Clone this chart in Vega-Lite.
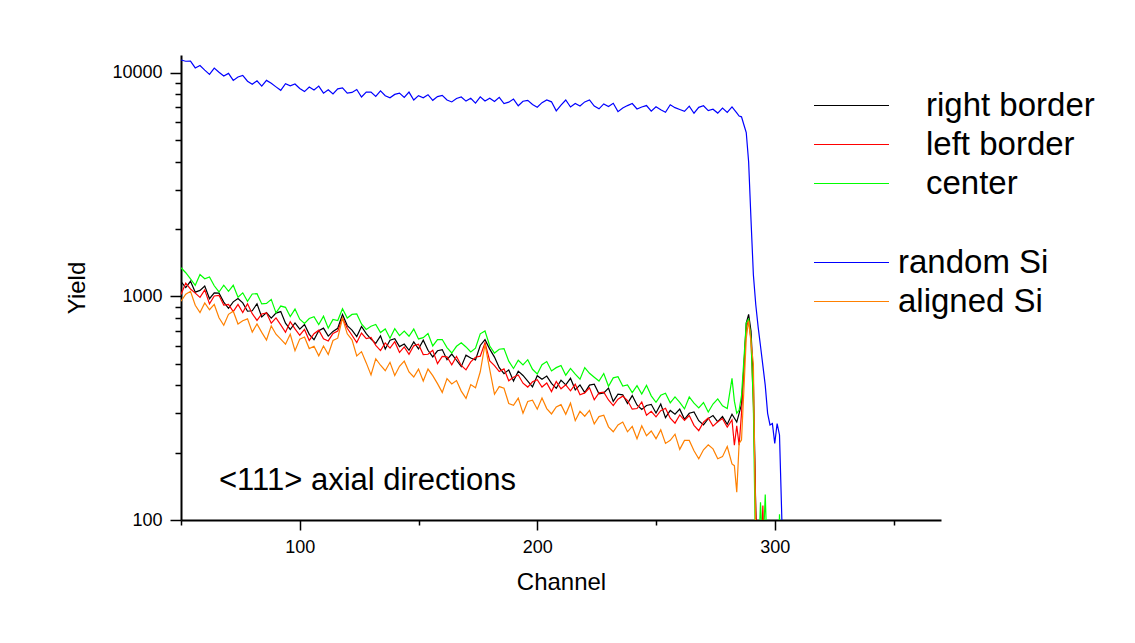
{
  "$schema": "https://vega.github.io/schema/vega-lite/v6.json",
  "autosize": {"type": "none"},
  "padding": {"left": 181, "top": 55, "right": 194, "bottom": 123},
  "width": 760,
  "height": 465,
  "background": "white",
  "config": {
    "font": "Liberation Sans",
    "view": {"stroke": null},
    "axis": {"grid": false, "domainColor": "black", "tickColor": "black", "labelColor": "black", "titleColor": "black", "labelFontSize": 18, "titleFontSize": 24, "titleFontWeight": "normal", "domainWidth": 2, "tickWidth": 1.5, "labelFont": "Liberation Sans", "titleFont": "Liberation Sans"},
    "legend": {"symbolType": "stroke", "symbolSize": 5625, "symbolStrokeWidth": 1.2, "labelFontSize": 33, "labelLimit": 500, "labelColor": "black", "clipHeight": 37, "rowPadding": 2, "padding": 0, "labelFont": "Liberation Sans"}
  },
  "datasets": {
    "aligned": [
      {"channel": 50, "right border": 1164, "left border": 1020, "center": 1342},
      {"channel": 52, "right border": 1094, "left border": 1146, "center": 1275},
      {"channel": 54, "right border": 1168, "left border": 1079, "center": 1197},
      {"channel": 56, "right border": 1044, "left border": 1034, "center": 1121},
      {"channel": 58, "right border": 1063, "left border": 990, "center": 1251},
      {"channel": 60, "right border": 1113, "left border": 1069, "center": 1199},
      {"channel": 62, "right border": 976, "left border": 926, "center": 1221},
      {"channel": 64, "right border": 1036, "left border": 1004, "center": 1115},
      {"channel": 66, "right border": 1034, "left border": 1011, "center": 1046},
      {"channel": 68, "right border": 943, "left border": 914, "center": 1122},
      {"channel": 70, "right border": 884, "left border": 921, "center": 1053},
      {"channel": 72, "right border": 945, "left border": 854, "center": 1121},
      {"channel": 74, "right border": 977, "left border": 920, "center": 992},
      {"channel": 76, "right border": 935, "left border": 846, "center": 1037},
      {"channel": 78, "right border": 858, "left border": 927, "center": 951},
      {"channel": 80, "right border": 862, "left border": 837, "center": 1025},
      {"channel": 82, "right border": 927, "left border": 781, "center": 1028},
      {"channel": 84, "right border": 809, "left border": 834, "center": 925},
      {"channel": 86, "right border": 846, "left border": 844, "center": 930},
      {"channel": 88, "right border": 799, "left border": 759, "center": 969},
      {"channel": 90, "right border": 842, "left border": 801, "center": 844},
      {"channel": 92, "right border": 855, "left border": 745, "center": 905},
      {"channel": 94, "right border": 759, "left border": 691, "center": 893},
      {"channel": 96, "right border": 711, "left border": 770, "center": 813},
      {"channel": 98, "right border": 760, "left border": 715, "center": 877},
      {"channel": 100, "right border": 713, "left border": 670, "center": 790},
      {"channel": 102, "right border": 748, "left border": 711, "center": 757},
      {"channel": 104, "right border": 676, "left border": 635, "center": 796},
      {"channel": 106, "right border": 640, "left border": 681, "center": 811},
      {"channel": 108, "right border": 702, "left border": 706, "center": 748},
      {"channel": 110, "right border": 721, "left border": 646, "center": 815},
      {"channel": 112, "right border": 664, "left border": 632, "center": 721},
      {"channel": 114, "right border": 697, "left border": 682, "center": 788},
      {"channel": 116, "right border": 720, "left border": 700, "center": 780},
      {"channel": 118, "right border": 830, "left border": 800, "center": 880},
      {"channel": 120, "right border": 740, "left border": 720, "center": 800},
      {"channel": 122, "right border": 706, "left border": 670, "center": 830},
      {"channel": 124, "right border": 661, "left border": 621, "center": 834},
      {"channel": 126, "right border": 734, "left border": 685, "center": 753},
      {"channel": 128, "right border": 681, "left border": 647, "center": 711},
      {"channel": 130, "right border": 644, "left border": 655, "center": 735},
      {"channel": 132, "right border": 616, "left border": 604, "center": 748},
      {"channel": 134, "right border": 666, "left border": 572, "center": 689},
      {"channel": 136, "right border": 582, "left border": 619, "center": 715},
      {"channel": 138, "right border": 637, "left border": 587, "center": 650},
      {"channel": 140, "right border": 647, "left border": 627, "center": 717},
      {"channel": 142, "right border": 596, "left border": 561, "center": 667},
      {"channel": 144, "right border": 612, "left border": 594, "center": 699},
      {"channel": 146, "right border": 574, "left border": 551, "center": 663},
      {"channel": 148, "right border": 626, "left border": 601, "center": 714},
      {"channel": 150, "right border": 582, "left border": 611, "center": 645},
      {"channel": 152, "right border": 637, "left border": 549, "center": 654},
      {"channel": 154, "right border": 574, "left border": 551, "center": 682},
      {"channel": 156, "right border": 536, "left border": 574, "center": 600},
      {"channel": 158, "right border": 571, "left border": 500, "center": 640},
      {"channel": 160, "right border": 578, "left border": 539, "center": 641},
      {"channel": 162, "right border": 521, "left border": 537, "center": 590},
      {"channel": 164, "right border": 552, "left border": 494, "center": 558},
      {"channel": 166, "right border": 518, "left border": 538, "center": 598},
      {"channel": 168, "right border": 485, "left border": 491, "center": 620},
      {"channel": 170, "right border": 546, "left border": 469, "center": 594},
      {"channel": 172, "right border": 530, "left border": 509, "center": 564},
      {"channel": 174, "right border": 519, "left border": 534, "center": 587},
      {"channel": 176, "right border": 603, "left border": 540, "center": 680},
      {"channel": 178, "right border": 640, "left border": 620, "center": 700},
      {"channel": 180, "right border": 581, "left border": 514, "center": 600},
      {"channel": 182, "right border": 535, "left border": 490, "center": 558},
      {"channel": 184, "right border": 480, "left border": 461, "center": 580},
      {"channel": 186, "right border": 451, "left border": 474, "center": 584},
      {"channel": 188, "right border": 469, "left border": 419, "center": 513},
      {"channel": 190, "right border": 418, "left border": 435, "center": 476},
      {"channel": 192, "right border": 463, "left border": 445, "center": 518},
      {"channel": 194, "right border": 443, "left border": 409, "center": 494},
      {"channel": 196, "right border": 418, "left border": 393, "center": 521},
      {"channel": 198, "right border": 394, "left border": 415, "center": 472},
      {"channel": 200, "right border": 442, "left border": 424, "center": 450},
      {"channel": 202, "right border": 426, "left border": 393, "center": 495},
      {"channel": 204, "right border": 440, "left border": 410, "center": 511},
      {"channel": 206, "right border": 408, "left border": 375, "center": 464},
      {"channel": 208, "right border": 388, "left border": 416, "center": 480},
      {"channel": 210, "right border": 422, "left border": 386, "center": 491},
      {"channel": 212, "right border": 402, "left border": 402, "center": 444},
      {"channel": 214, "right border": 430, "left border": 378, "center": 476},
      {"channel": 216, "right border": 382, "left border": 405, "center": 449},
      {"channel": 218, "right border": 402, "left border": 363, "center": 426},
      {"channel": 220, "right border": 371, "left border": 370, "center": 480},
      {"channel": 222, "right border": 401, "left border": 390, "center": 453},
      {"channel": 224, "right border": 405, "left border": 345, "center": 435},
      {"channel": 226, "right border": 367, "left border": 370, "center": 418},
      {"channel": 228, "right border": 370, "left border": 373, "center": 452},
      {"channel": 230, "right border": 389, "left border": 344, "center": 396},
      {"channel": 232, "right border": 339, "left border": 325, "center": 432},
      {"channel": 234, "right border": 365, "left border": 347, "center": 437},
      {"channel": 236, "right border": 363, "left border": 358, "center": 397},
      {"channel": 238, "right border": 332, "left border": 342, "center": 402},
      {"channel": 240, "right border": 360, "left border": 313, "center": 371},
      {"channel": 242, "right border": 327, "left border": 315, "center": 399},
      {"channel": 244, "right border": 312, "left border": 337, "center": 366},
      {"channel": 246, "right border": 325, "left border": 294, "center": 400},
      {"channel": 248, "right border": 329, "left border": 306, "center": 359},
      {"channel": 250, "right border": 301, "left border": 289, "center": 336},
      {"channel": 252, "right border": 330, "left border": 308, "center": 361},
      {"channel": 254, "right border": 287, "left border": 316, "center": 369},
      {"channel": 256, "right border": 309, "left border": 285, "center": 334},
      {"channel": 258, "right border": 297, "left border": 271, "center": 355},
      {"channel": 260, "right border": 313, "left border": 295, "center": 336},
      {"channel": 262, "right border": 282, "left border": 279, "center": 314},
      {"channel": 264, "right border": 300, "left border": 293, "center": 355},
      {"channel": 266, "right border": 304, "left border": 265, "center": 333},
      {"channel": 268, "right border": 278, "left border": 251, "center": 317},
      {"channel": 270, "right border": 266, "left border": 274, "center": 335},
      {"channel": 272, "right border": 284, "left border": 286, "center": 304},
      {"channel": 274, "right border": 293, "left border": 263, "center": 330},
      {"channel": 276, "right border": 275, "left border": 275, "center": 348},
      {"channel": 278, "right border": 290, "left border": 284, "center": 324},
      {"channel": 280, "right border": 268, "left border": 260, "center": 315},
      {"channel": 282, "right border": 297, "left border": 280, "center": 430},
      {"channel": 283, "left border": 216, "center": 340},
      {"channel": 284, "right border": 274, "left border": 264, "center": 300},
      {"channel": 285, "right border": 300, "left border": 216, "center": 310},
      {"channel": 286, "right border": 330, "left border": 300, "center": 360},
      {"channel": 287, "right border": 480, "left border": 470, "center": 520},
      {"channel": 288, "right border": 760, "left border": 720, "center": 760},
      {"channel": 289, "right border": 830, "left border": 790, "center": 790},
      {"channel": 290, "right border": 700, "left border": 640, "center": 650},
      {"channel": 291, "right border": 420, "left border": 330, "center": 320},
      {"channel": 292, "right border": 110, "left border": 110, "center": 60},
      {"channel": 293, "right border": 40, "left border": 50, "center": 60},
      {"channel": 294, "left border": 60, "center": 120},
      {"channel": 295, "left border": 116, "center": 70},
      {"channel": 296, "left border": 50, "center": 130},
      {"channel": 297, "center": 60},
      {"channel": 298, "center": 40},
      {"channel": 299, "center": 40},
      {"channel": 300, "center": 40},
      {"channel": 301, "center": 40},
      {"channel": 302, "center": 106},
      {"channel": 303, "center": 40}
    ],
    "si": [
      {"channel": 50, "random Si": 11400, "aligned Si": 951},
      {"channel": 52, "random Si": 11253, "aligned Si": 1023},
      {"channel": 54, "random Si": 11268, "aligned Si": 1053},
      {"channel": 56, "random Si": 10502, "aligned Si": 912},
      {"channel": 58, "random Si": 10770, "aligned Si": 846},
      {"channel": 60, "random Si": 10275, "aligned Si": 935},
      {"channel": 62, "random Si": 9829, "aligned Si": 871},
      {"channel": 64, "random Si": 10484, "aligned Si": 920},
      {"channel": 66, "random Si": 10040, "aligned Si": 802},
      {"channel": 68, "random Si": 9663, "aligned Si": 742},
      {"channel": 70, "random Si": 9933, "aligned Si": 831},
      {"channel": 72, "random Si": 9235, "aligned Si": 858},
      {"channel": 74, "random Si": 9574, "aligned Si": 752},
      {"channel": 76, "random Si": 9732, "aligned Si": 778},
      {"channel": 78, "random Si": 9165, "aligned Si": 793},
      {"channel": 80, "random Si": 8882, "aligned Si": 692},
      {"channel": 82, "random Si": 9203, "aligned Si": 752},
      {"channel": 84, "random Si": 8711, "aligned Si": 690},
      {"channel": 86, "random Si": 9241, "aligned Si": 638},
      {"channel": 88, "random Si": 8966, "aligned Si": 738},
      {"channel": 90, "random Si": 8642, "aligned Si": 677},
      {"channel": 92, "random Si": 8340, "aligned Si": 644},
      {"channel": 94, "random Si": 8929, "aligned Si": 611},
      {"channel": 96, "random Si": 8732, "aligned Si": 677},
      {"channel": 98, "random Si": 8899, "aligned Si": 571},
      {"channel": 100, "random Si": 8497, "aligned Si": 644},
      {"channel": 102, "random Si": 8233, "aligned Si": 658},
      {"channel": 104, "random Si": 8633, "aligned Si": 584},
      {"channel": 106, "random Si": 8369, "aligned Si": 598},
      {"channel": 108, "random Si": 8711, "aligned Si": 542},
      {"channel": 110, "random Si": 8101, "aligned Si": 600},
      {"channel": 112, "random Si": 8389, "aligned Si": 550},
      {"channel": 114, "random Si": 8032, "aligned Si": 635},
      {"channel": 116, "random Si": 8468, "aligned Si": 650},
      {"channel": 118, "random Si": 8557, "aligned Si": 800},
      {"channel": 120, "random Si": 8102, "aligned Si": 680},
      {"channel": 122, "random Si": 8161, "aligned Si": 639},
      {"channel": 124, "random Si": 8415, "aligned Si": 542},
      {"channel": 126, "random Si": 7789, "aligned Si": 566},
      {"channel": 128, "random Si": 8187, "aligned Si": 504},
      {"channel": 130, "random Si": 8195, "aligned Si": 445},
      {"channel": 132, "random Si": 7837, "aligned Si": 526},
      {"channel": 134, "random Si": 8298, "aligned Si": 492},
      {"channel": 136, "random Si": 7894, "aligned Si": 465},
      {"channel": 138, "random Si": 7731, "aligned Si": 507},
      {"channel": 140, "random Si": 7998, "aligned Si": 443},
      {"channel": 142, "random Si": 8110, "aligned Si": 487},
      {"channel": 144, "random Si": 7748, "aligned Si": 513},
      {"channel": 146, "random Si": 8190, "aligned Si": 459},
      {"channel": 148, "random Si": 7548, "aligned Si": 436},
      {"channel": 150, "random Si": 7894, "aligned Si": 473},
      {"channel": 152, "random Si": 7723, "aligned Si": 418},
      {"channel": 154, "random Si": 7972, "aligned Si": 473},
      {"channel": 156, "random Si": 7525, "aligned Si": 442},
      {"channel": 158, "random Si": 7818, "aligned Si": 407},
      {"channel": 160, "random Si": 7925, "aligned Si": 372},
      {"channel": 162, "random Si": 7548, "aligned Si": 429},
      {"channel": 164, "random Si": 7401, "aligned Si": 406},
      {"channel": 166, "random Si": 7666, "aligned Si": 420},
      {"channel": 168, "random Si": 7793, "aligned Si": 377},
      {"channel": 170, "random Si": 7463, "aligned Si": 350},
      {"channel": 172, "random Si": 7681, "aligned Si": 403},
      {"channel": 174, "random Si": 7307, "aligned Si": 390},
      {"channel": 176, "random Si": 7797, "aligned Si": 460},
      {"channel": 178, "random Si": 7469, "aligned Si": 610},
      {"channel": 180, "random Si": 7686, "aligned Si": 470},
      {"channel": 182, "random Si": 7430, "aligned Si": 365},
      {"channel": 184, "random Si": 7760, "aligned Si": 395},
      {"channel": 186, "random Si": 7281, "aligned Si": 388},
      {"channel": 188, "random Si": 7385, "aligned Si": 332},
      {"channel": 190, "random Si": 7622, "aligned Si": 326},
      {"channel": 192, "random Si": 7118, "aligned Si": 351},
      {"channel": 194, "random Si": 7456, "aligned Si": 300},
      {"channel": 196, "random Si": 7528, "aligned Si": 339},
      {"channel": 198, "random Si": 7204, "aligned Si": 343},
      {"channel": 200, "random Si": 7013, "aligned Si": 313},
      {"channel": 202, "random Si": 7350, "aligned Si": 351},
      {"channel": 204, "random Si": 7555, "aligned Si": 315},
      {"channel": 206, "random Si": 7409, "aligned Si": 298},
      {"channel": 208, "random Si": 6750, "aligned Si": 320},
      {"channel": 210, "random Si": 7163, "aligned Si": 328},
      {"channel": 212, "random Si": 7550, "aligned Si": 297},
      {"channel": 214, "random Si": 7025, "aligned Si": 333},
      {"channel": 216, "random Si": 7281, "aligned Si": 278},
      {"channel": 218, "random Si": 7104, "aligned Si": 306},
      {"channel": 220, "random Si": 7404, "aligned Si": 291},
      {"channel": 222, "random Si": 7550, "aligned Si": 309},
      {"channel": 224, "random Si": 7092, "aligned Si": 269},
      {"channel": 226, "random Si": 6895, "aligned Si": 290},
      {"channel": 228, "random Si": 7254, "aligned Si": 294},
      {"channel": 230, "random Si": 7057, "aligned Si": 261},
      {"channel": 232, "random Si": 7299, "aligned Si": 248},
      {"channel": 234, "random Si": 6700, "aligned Si": 266},
      {"channel": 236, "random Si": 6950, "aligned Si": 274},
      {"channel": 238, "random Si": 7129, "aligned Si": 248},
      {"channel": 240, "random Si": 7283, "aligned Si": 262},
      {"channel": 242, "random Si": 6882, "aligned Si": 231},
      {"channel": 244, "random Si": 7028, "aligned Si": 264},
      {"channel": 246, "random Si": 7131, "aligned Si": 238},
      {"channel": 248, "random Si": 6734, "aligned Si": 250},
      {"channel": 250, "random Si": 7045, "aligned Si": 231},
      {"channel": 252, "random Si": 6831, "aligned Si": 253},
      {"channel": 254, "random Si": 6659, "aligned Si": 220},
      {"channel": 256, "random Si": 7192, "aligned Si": 227},
      {"channel": 258, "random Si": 6979, "aligned Si": 242},
      {"channel": 260, "random Si": 6849, "aligned Si": 207},
      {"channel": 262, "random Si": 6721, "aligned Si": 227},
      {"channel": 264, "random Si": 7088, "aligned Si": 227},
      {"channel": 266, "random Si": 6589, "aligned Si": 204},
      {"channel": 268, "random Si": 6998, "aligned Si": 188},
      {"channel": 270, "random Si": 7117, "aligned Si": 206},
      {"channel": 272, "random Si": 6766, "aligned Si": 217},
      {"channel": 274, "random Si": 6867, "aligned Si": 208},
      {"channel": 276, "random Si": 6600, "aligned Si": 188},
      {"channel": 278, "random Si": 6945, "aligned Si": 192},
      {"channel": 280, "random Si": 6638, "aligned Si": 213},
      {"channel": 282, "random Si": 7027, "aligned Si": 178},
      {"channel": 283, "aligned Si": 175},
      {"channel": 284, "random Si": 6610, "aligned Si": 133},
      {"channel": 285, "random Si": 6400, "aligned Si": 220},
      {"channel": 286, "random Si": 6350, "aligned Si": 228},
      {"channel": 287, "random Si": 5850, "aligned Si": 380},
      {"channel": 288, "random Si": 5400, "aligned Si": 650},
      {"channel": 289, "random Si": 4000, "aligned Si": 780},
      {"channel": 290, "random Si": 2200, "aligned Si": 620},
      {"channel": 291, "random Si": 1250, "aligned Si": 500},
      {"channel": 292, "random Si": 920, "aligned Si": 80},
      {"channel": 293, "random Si": 730, "aligned Si": 30},
      {"channel": 294, "random Si": 600},
      {"channel": 295, "random Si": 490},
      {"channel": 296, "random Si": 400},
      {"channel": 297, "random Si": 300},
      {"channel": 298, "random Si": 266},
      {"channel": 299, "random Si": 270},
      {"channel": 300, "random Si": 220},
      {"channel": 301, "random Si": 270},
      {"channel": 302, "random Si": 240},
      {"channel": 303, "random Si": 100},
      {"channel": 304, "random Si": 40}
    ]
  },
  "resolve": {"axis": {"x": "independent", "y": "independent"}},
  "layer": [
    {
      "data": {"name": "aligned"},
      "transform": [
        {"fold": ["right border", "left border", "center"], "as": ["series", "yield"]},
        {"filter": "isValid(datum.yield) && datum.yield > 0"}
      ],
      "mark": {"type": "line", "strokeWidth": 1.2, "clip": true},
      "encoding": {
        "x": {"field": "channel", "type": "quantitative", "scale": {"domain": [50, 370], "nice": false, "zero": false},
              "axis": {"orient": "bottom", "values": [100, 200, 300], "tickSize": 10, "labelPadding": 8, "title": "Channel", "titlePadding": 14}},
        "y": {"field": "yield", "type": "quantitative", "scale": {"type": "log", "domain": [100, 12000], "nice": false},
              "axis": {"orient": "left", "values": [100, 1000, 10000], "format": "d", "tickSize": 11, "labelPadding": 8, "title": "Yield", "titlePadding": 22}},
        "color": {"field": "series", "type": "nominal",
                  "scale": {"domain": ["right border", "left border", "center"], "range": ["#000000", "#ff0000", "#00ff00"]},
                  "legend": {"orient": "none", "legendX": 632, "legendY": 32, "labelOffset": 36, "title": null}}
      }
    },
    {
      "data": {"name": "si"},
      "transform": [
        {"fold": ["random Si", "aligned Si"], "as": ["series", "yield"]},
        {"filter": "isValid(datum.yield) && datum.yield > 0"}
      ],
      "mark": {"type": "line", "strokeWidth": 1.2, "clip": true},
      "encoding": {
        "x": {"field": "channel", "type": "quantitative", "scale": {"domain": [50, 370], "nice": false, "zero": false},
              "axis": {"orient": "bottom", "values": [50, 150, 250, 350], "tickSize": 5, "labels": false, "domain": false, "title": null}},
        "y": {"field": "yield", "type": "quantitative", "scale": {"type": "log", "domain": [100, 12000], "nice": false},
              "axis": {"orient": "left", "values": [200, 300, 400, 500, 600, 700, 800, 900, 2000, 3000, 4000, 5000, 6000, 7000, 8000, 9000], "tickSize": 6, "labels": false, "domain": false, "title": null}},
        "stroke": {"field": "series", "type": "nominal",
                   "scale": {"domain": ["random Si", "aligned Si"], "range": ["#0000ff", "#ff8000"]},
                   "legend": {"orient": "none", "legendX": 632, "legendY": 189, "labelOffset": 8, "title": null}}
      }
    },
    {
      "data": {"values": [{"label": "<111> axial directions", "channel": 66, "yield": 136}]},
      "mark": {"type": "text", "align": "left", "baseline": "alphabetic", "fontSize": 31, "font": "Liberation Sans", "color": "black"},
      "encoding": {
        "x": {"field": "channel", "type": "quantitative", "scale": {"domain": [50, 370], "nice": false, "zero": false}, "axis": null},
        "y": {"field": "yield", "type": "quantitative", "scale": {"type": "log", "domain": [100, 12000], "nice": false}, "axis": null},
        "text": {"field": "label"}
      }
    }
  ]
}
